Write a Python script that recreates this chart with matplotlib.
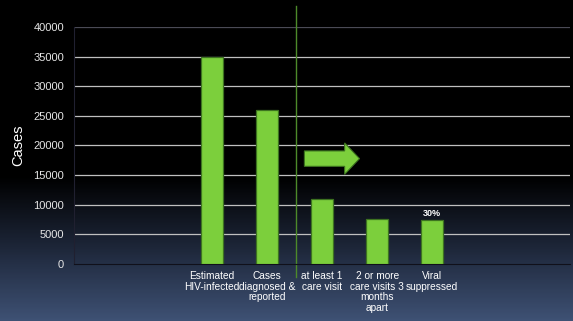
import matplotlib.pyplot as plt
import numpy as np
from matplotlib.colors import LinearSegmentedColormap
from matplotlib.patches import FancyArrow

plt.rcParams["font.family"] = ["Liberation Sans", "DejaVu Sans"]

# nine category slots, only five are filled
categories = ["", "", "Estimated\nHIV-infected", "Cases\ndiagnosed &\nreported",
              "at least 1\ncare visit", "2 or more\ncare visits 3\nmonths\napart",
              "Viral\nsuppressed", "", ""]
cases = [0, 0, 35000, 26000, 10900, 7600, 7400, 0, 0]
annotations = {6: "30%"}
y_ticks = [0, 5000, 10000, 15000, 20000, 25000, 30000, 35000, 40000]

fig = plt.figure(figsize=(5.73, 3.21), dpi=100)

# background gradient: black top, slate blue bottom
bg = fig.add_axes([0, 0, 1, 1], zorder=-10)
grad = np.linspace(0, 1, 321).reshape(-1, 1)
cmap = LinearSegmentedColormap.from_list(
    "bg", [(0.0, "#000000"), (0.55, "#000000"), (0.75, "#1a2233"), (1.0, "#3e5174")])
bg.imshow(grad, aspect="auto", cmap=cmap, extent=[0, 1, 0, 1])
bg.axis("off")

ax = fig.add_axes([0.129, 0.178, 0.866, 0.738])
ax.patch.set_alpha(0)

x = np.arange(len(categories))
heights = np.array(cases, dtype=float)
mask = heights > 0
ax.bar(x[mask], heights[mask], width=0.4, color="#7ccf3c",
       edgecolor="#3d7320", linewidth=0.9, zorder=3)

for i, txt in annotations.items():
    ax.text(x[i], cases[i] + 350, txt, ha="center", va="bottom",
            color="white", fontsize=6.5, fontweight="bold", zorder=4)

ax.set_xlim(-0.5, len(categories) - 0.5)
ax.set_ylim(0, 40000)
ax.set_yticks(y_ticks)
ax.set_yticklabels([str(v) for v in y_ticks])
ax.set_xticks(x)
ax.set_xticklabels(categories, fontsize=7.3, color="white", linespacing=1.1)
ax.tick_params(axis="y", length=0, pad=7, labelsize=8, labelcolor="#e6e6e6")
ax.tick_params(axis="x", length=0, pad=5)

for v in y_ticks[1:]:
    ax.axhline(v, color="#4a4a55" if v == 40000 else "#c0c0c0",
               lw=0.9, zorder=1)

for side in ["top", "right"]:
    ax.spines[side].set_visible(False)
ax.spines["left"].set_color("#202030")
ax.spines["bottom"].set_color("#10101a")

ax.set_ylabel("Cases", color="white", fontsize=10.5, labelpad=6)

# divider line between reported cases and care stages
ax.plot([3.52, 3.52], [-2200, 43500], color="#4d8a2a", lw=1.0,
        clip_on=False, zorder=2)

# right-pointing arrow
ax.add_patch(FancyArrow(3.68, 17770, 1.0, 0, width=2600, head_width=5300,
                        head_length=0.27, length_includes_head=True,
                        facecolor="#7ccf3c", edgecolor="#3d7320",
                        linewidth=0.8, zorder=3))

fig.savefig("out.png", dpi=100)
